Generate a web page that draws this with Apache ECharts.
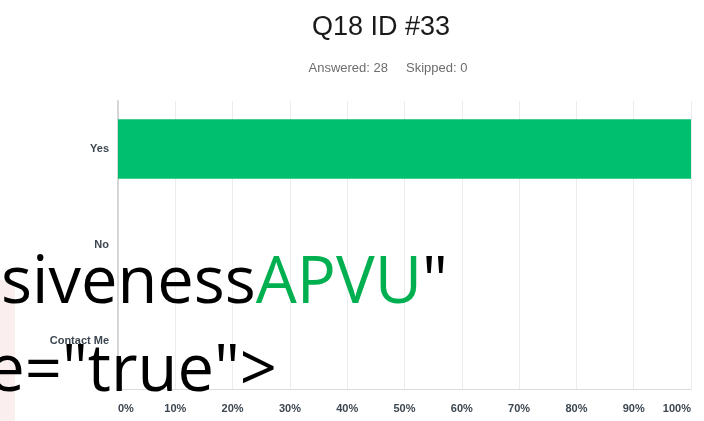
<!DOCTYPE html>
<html>
<head>
<meta charset="utf-8">
<script src="https://cdn.jsdelivr.net/npm/echarts@6/dist/echarts.min.js"></script>
<style>
html, body { margin: 0; padding: 0; background: #fff; }
#main { width: 704px; height: 421px; }
</style>
</head>
<body>
<div id="main"></div>
<script>
var categories = ['Yes', 'No', 'Contact Me'];
var percents = [100, 0, 0];
var tickMax = 100;
var tickStep = 10;

var myChart = echarts.init(document.getElementById('main'));

var option = {
	animation: false,
	title: [{
		text: 'Q18 ID #33',
		left: 376,
		top: 9,
		textAlign: 'center',
		textStyle: { fontFamily: 'Liberation Sans', fontSize: 27, fontWeight: 'normal', color: '#1a1a1a' }
	}, {
		text: 'Answered: 28     Skipped: 0',
		left: 383,
		top: 57,
		textAlign: 'center',
		textStyle: { fontFamily: 'Liberation Sans', fontSize: 13, fontWeight: 'normal', color: '#6d6d6d' }
	}],
	grid: { left: 118, right: 13, top: 101, bottom: 32 },
	xAxis: {
		type: 'value',
		min: 0,
		max: tickMax,
		interval: tickStep,
		axisLine: { show: true, lineStyle: { color: '#dcdcdc' } },
		axisTick: { show: false },
		splitLine: { lineStyle: { color: '#ececec' } },
		axisLabel: {
			formatter: '{value}%',
			fontFamily: 'Liberation Sans',
			fontSize: 11,
			fontWeight: 'bold',
			color: '#3c4650',
			margin: 14,
			alignMinLabel: 'left',
			alignMaxLabel: 'right'
		}
	},
	yAxis: {
		type: 'category',
		inverse: true,
		data: categories,
		axisLine: { show: true, lineStyle: { color: '#d6d6d6', width: 2 } },
		axisTick: { show: false },
		axisLabel: {
			fontFamily: 'Liberation Sans',
			fontSize: 11,
			fontWeight: 'bold',
			color: '#3c4650',
			margin: 9
		}
	},
	series: [{
		type: 'bar',
		data: percents,
		barWidth: '62%',
		itemStyle: { color: '#00bf6f' }
	}],
	graphic: [{
		type: 'rect',
		z: 90,
		shape: { x: 0, y: 280, width: 15, height: 141 },
		style: { fill: '#fbeeee' }
	}, {
		type: 'text',
		z: 100,
		x: 448,
		y: 317,
		style: {
			text: '{a|siveness}{b|APVU}{a|"}',
			textAlign: 'right',
			verticalAlign: 'bottom',
			rich: {
				a: { fontFamily: 'Open Sans', fontSize: 65, fill: '#000000' },
				b: { fontFamily: 'Open Sans', fontSize: 65, fill: '#00b050' }
			}
		}
	}, {
		type: 'text',
		z: 100,
		x: 277,
		y: 405,
		style: {
			text: 'e="true">',
			textAlign: 'right',
			verticalAlign: 'bottom',
			fontFamily: 'Open Sans',
			fontSize: 65,
			fill: '#000000'
		}
	}]
};

myChart.setOption(option);
</script>
</body>
</html>
